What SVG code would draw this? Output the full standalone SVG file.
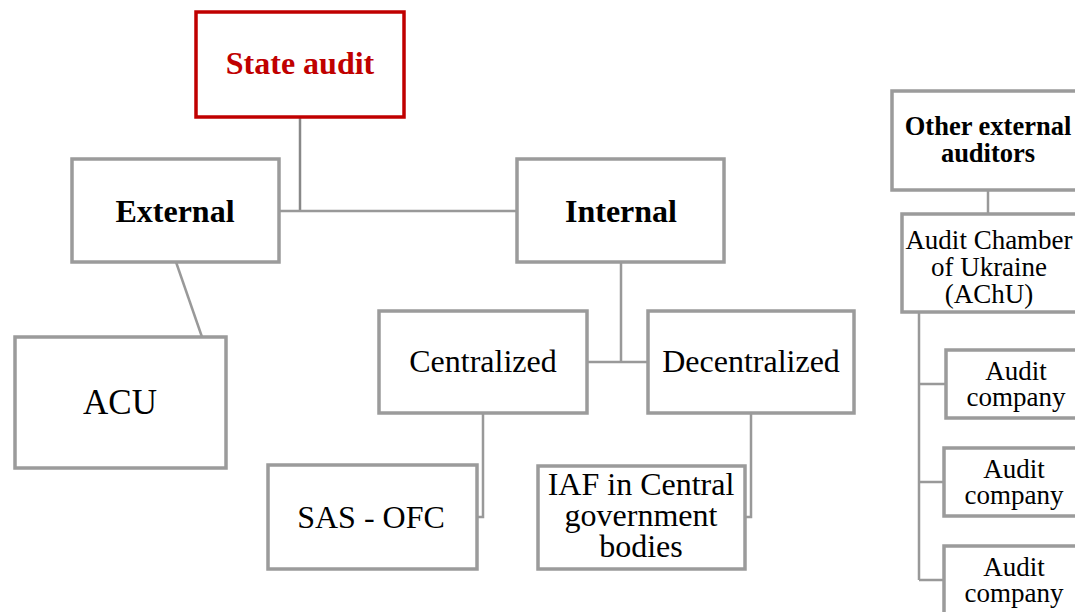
<svg xmlns="http://www.w3.org/2000/svg" width="1075" height="612" viewBox="0 0 1075 612">
<style>
.box{fill:#fff;stroke:#9b9b9b;stroke-width:3.5}
.red{fill:#fff;stroke:#c00000;stroke-width:3.5}
.t{font-family:"Liberation Serif","Times New Roman",serif;fill:#000;text-anchor:middle}
.b{font-weight:bold}
.ln{fill:none;stroke:#999;stroke-width:2.5}
</style>
<rect width="1075" height="612" fill="#fff"/>
<g id="connectors">
<path class="ln" d="M300 117V211" style="stroke:#888"/>
<path class="ln" d="M279 211H517"/>
<path class="ln" d="M176 262L202 337"/>
<path class="ln" d="M621 262V362M587 362H648"/>
<path class="ln" d="M483 413V517H477"/>
<path class="ln" d="M751 413V517H745"/>
<path class="ln" d="M988 190V214"/>
<path class="ln" d="M919 312V580M919 384H946M919 482H944M919 580H944"/>
</g>
<g id="state-audit"><rect class="red" x="196" y="12" width="208" height="105"/><text class="t b" x="300" y="74" font-size="32" style="fill:#c00000">State audit</text></g>
<g id="external"><rect class="box" x="72" y="159" width="207" height="103"/><text class="t b" x="175" y="222" font-size="32">External</text></g>
<g id="internal"><rect class="box" x="517" y="159" width="207" height="103"/><text class="t b" x="621" y="222" font-size="32">Internal</text></g>
<g id="acu"><rect class="box" x="15" y="337" width="211" height="131"/><text class="t" x="120" y="414" font-size="35">ACU</text></g>
<g id="centralized"><rect class="box" x="379" y="311" width="208" height="102"/><text class="t" x="483" y="372" font-size="32">Centralized</text></g>
<g id="decentralized"><rect class="box" x="648" y="311" width="206" height="102"/><text class="t" x="751" y="372" font-size="32">Decentralized</text></g>
<g id="sas-ofc"><rect class="box" x="268" y="465" width="209" height="104"/><text class="t" x="371" y="528" font-size="32">SAS - OFC</text></g>
<g id="iaf"><rect class="box" x="538" y="466" width="207" height="103"/><text class="t" font-size="32"><tspan x="641" y="495">IAF in Central</tspan><tspan x="641" y="526">government</tspan><tspan x="641" y="557">bodies</tspan></text></g>
<g id="other-external"><rect class="box" x="892" y="91" width="200" height="99"/><text class="t b" font-size="26.5"><tspan x="988" y="135">Other external</tspan><tspan x="988" y="162">auditors</tspan></text></g>
<g id="achu"><rect class="box" x="902" y="214" width="190" height="98"/><text class="t" font-size="27"><tspan x="989" y="249">Audit Chamber</tspan><tspan x="989" y="276">of Ukraine</tspan><tspan x="989" y="303">(AChU)</tspan></text></g>
<g id="audit-company-1"><rect class="box" x="946" y="350" width="150" height="68"/><text class="t" font-size="27"><tspan x="1016" y="380">Audit</tspan><tspan x="1016" y="406">company</tspan></text></g>
<g id="audit-company-2"><rect class="box" x="944" y="448" width="150" height="68"/><text class="t" font-size="27"><tspan x="1014" y="478">Audit</tspan><tspan x="1014" y="504">company</tspan></text></g>
<g id="audit-company-3"><rect class="box" x="944" y="546" width="150" height="80"/><text class="t" font-size="27"><tspan x="1014" y="576">Audit</tspan><tspan x="1014" y="602">company</tspan></text></g>
</svg>
